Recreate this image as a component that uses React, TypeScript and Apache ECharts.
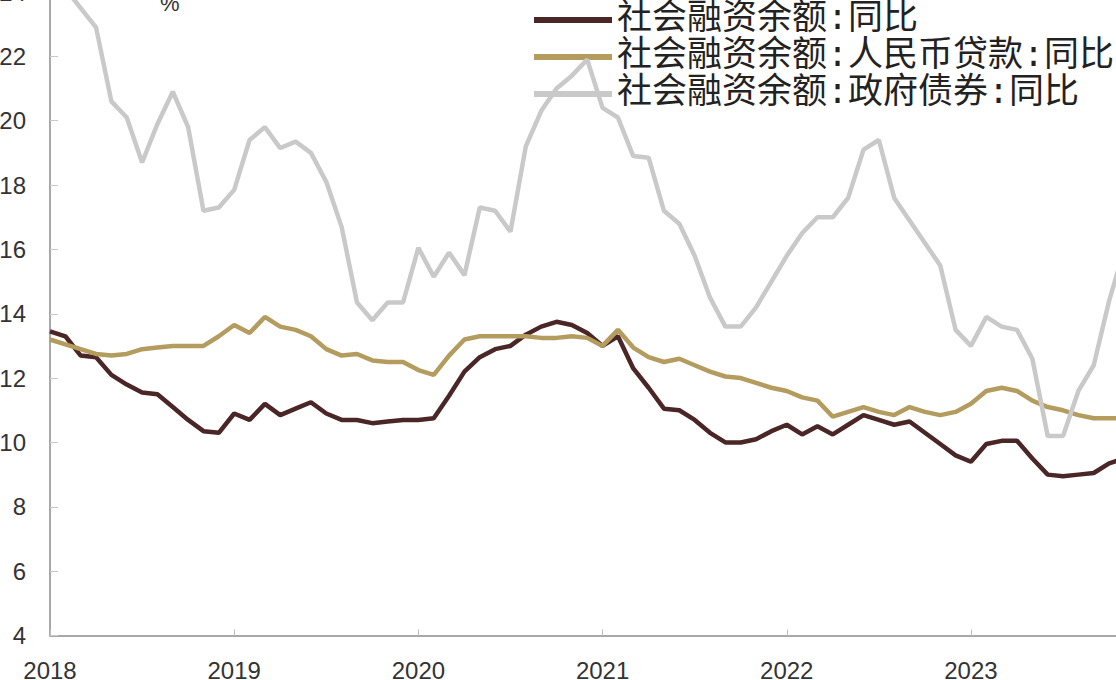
import React, { useEffect, useRef } from "react";
import * as echarts from "echarts";

// Monthly data, index 0 = 2018-01
const startYear = 2018;
const seriesNames = [
  "社会融资余额:同比",
  "社会融资余额:人民币贷款:同比",
  "社会融资余额:政府债券:同比",
];

const totalYoY = [
  13.45, 13.3, 12.7, 12.65, 12.1, 11.8, 11.55, 11.5, 11.1, 10.7, 10.35, 10.3,
  10.9, 10.7, 11.2, 10.85, 11.05, 11.25, 10.9, 10.7, 10.7, 10.6, 10.65, 10.7,
  10.7, 10.75, 11.45, 12.2, 12.65, 12.9, 13.0, 13.35, 13.6, 13.75, 13.65, 13.4,
  13.0, 13.3, 12.3, 11.7, 11.05, 11.0, 10.7, 10.3, 10.0, 10.0, 10.1, 10.35,
  10.55, 10.25, 10.5, 10.25, 10.55, 10.85, 10.7, 10.55, 10.65, 10.3, 9.95, 9.6,
  9.4, 9.95, 10.05, 10.05, 9.5, 9.0, 8.95, 9.0, 9.05, 9.35, 9.5,
];

const loanYoY = [
  13.2, 13.05, 12.9, 12.75, 12.7, 12.75, 12.9, 12.95, 13.0, 13.0, 13.0, 13.3,
  13.65, 13.4, 13.9, 13.6, 13.5, 13.3, 12.9, 12.7, 12.75, 12.55, 12.5, 12.5,
  12.25, 12.1, 12.7, 13.2, 13.3, 13.3, 13.3, 13.3, 13.25, 13.25, 13.3, 13.25,
  13.0, 13.5, 12.95, 12.65, 12.5, 12.6, 12.4, 12.2, 12.05, 12.0, 11.85, 11.7,
  11.6, 11.4, 11.3, 10.8, 10.95, 11.1, 10.95, 10.85, 11.1, 10.95, 10.85, 10.95,
  11.2, 11.6, 11.7, 11.6, 11.3, 11.1, 11.0, 10.85, 10.75, 10.75, 10.75,
];

const govBondYoY = [
  24.6, 24.1, 23.5, 22.9, 20.6, 20.1, 18.7, 19.9, 20.9, 19.8, 17.2, 17.3,
  17.85, 19.4, 19.8, 19.15, 19.35, 19.0, 18.1, 16.7, 14.35, 13.8, 14.35, 14.35,
  16.05, 15.15, 15.9, 15.2, 17.3, 17.2, 16.55, 19.2, 20.3, 21.0, 21.4, 21.9,
  20.4, 20.1, 18.9, 18.85, 17.2, 16.8, 15.8, 14.5, 13.6, 13.6, 14.2, 15.0,
  15.8, 16.5, 17.0, 17.0, 17.6, 19.1, 19.4, 17.6, 16.9, 16.2, 15.5, 13.5,
  13.0, 13.9, 13.6, 13.5, 12.6, 10.2, 10.2, 11.6, 12.4, 14.4, 16.0,
];

const seriesColors = ["#4a2626", "#b39c5e", "#c9c9c9"];
const yTicks = { min: 4, max: 24, step: 2 };
const unitLabel = "%";

const toPairs = (arr: number[]) => arr.map((v, i) => [i, v]);

export default function App() {
  const ref = useRef<HTMLDivElement>(null);

  useEffect(() => {
    if (!ref.current) return;
    const chart = echarts.init(ref.current, undefined, { renderer: "svg" });
    const labelFont = "'Liberation Sans', Arial, sans-serif";
    const data = [totalYoY, loanYoY, govBondYoY];

    chart.setOption({
      animation: false,
      backgroundColor: "#ffffff",
      grid: {
        left: 50,
        right: 0,
        top: -8,
        bottom: 44.5,
        containLabel: false,
        outerBoundsMode: "none",
      },
      legend: {
        orient: "vertical",
        left: 529,
        top: -3.5,
        itemGap: 0,
        itemWidth: 78,
        itemHeight: 6,
        icon: "rect",
        data: seriesNames,
        textStyle: {
          fontSize: 35,
          lineHeight: 37,
          color: "#222222",
          fontFamily: "'Liberation Mono', 'Noto Sans CJK SC', sans-serif",
        },
      },
      graphic: [
        {
          type: "text",
          left: 160,
          top: -8,
          style: {
            text: unitLabel,
            fontSize: 22,
            fill: "#333333",
            fontFamily: labelFont,
          },
        },
      ],
      xAxis: {
        type: "value",
        min: 0,
        max: 69.45,
        interval: 12,
        axisLine: { show: true, lineStyle: { color: "#a8a8a8", width: 2 } },
        axisTick: { show: true, inside: true, length: 6, lineStyle: { color: "#bdbdbd" } },
        splitLine: { show: false },
        axisLabel: {
          margin: 23,
          fontSize: 24,
          color: "#333333",
          fontFamily: labelFont,
          showMaxLabel: false,
          formatter: (v: number) =>
            Math.abs(v % 12) < 1e-6 ? String(startYear + Math.round(v / 12)) : "",
        },
      },
      yAxis: {
        type: "value",
        min: yTicks.min,
        max: yTicks.max,
        interval: yTicks.step,
        axisLine: { show: true, lineStyle: { color: "#a8a8a8", width: 2 } },
        axisTick: { show: true, inside: true, length: 8, lineStyle: { color: "#c8c8c8" } },
        splitLine: { show: false },
        axisLabel: {
          margin: 24,
          fontSize: 24,
          color: "#333333",
          fontFamily: labelFont,
        },
      },
      series: seriesNames.map((name, k) => ({
        name,
        type: "line",
        data: toPairs(data[k]),
        symbol: "none",
        smooth: false,
        color: seriesColors[k],
        lineStyle: { color: seriesColors[k], width: 4.5 },
        z: 2 + k,
      })),
    });

    return () => chart.dispose();
  }, []);

  return (
    <div
      ref={ref}
      style={{ position: "fixed", left: 0, top: 0, width: 1116, height: 680 }}
    />
  );
}
